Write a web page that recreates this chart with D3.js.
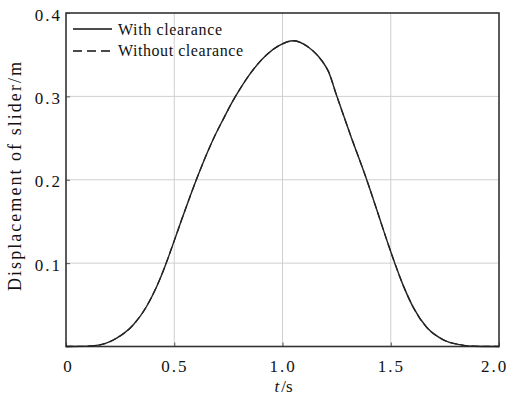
<!DOCTYPE html>
<html><head><meta charset="utf-8">
<script src="https://cdn.jsdelivr.net/npm/d3@7"></script>
<style>
body{margin:0;background:#fff;}
</style></head>
<body><svg id="c" width="507" height="404" font-family="Liberation Serif"></svg>
<script>
const xTicks = [0, 0.5, 1.0, 1.5, 2.0];
const xTickLabels = ["0", "0.5", "1.0", "1.5", "2.0"];
const yTicks = [0.1, 0.2, 0.3, 0.4];
const yTickLabels = ["0.1", "0.2", "0.3", "0.4"];
const seriesNames = ["With clearance", "Without clearance"];
const time = [0, 0.08, 0.157, 0.234, 0.311, 0.372, 0.419, 0.457, 0.496, 0.534, 0.573, 0.611, 0.650, 0.688, 0.727, 0.765, 0.804, 0.850, 0.927, 0.988, 1.05, 1.096, 1.143, 1.181, 1.212, 1.250, 1.312, 1.389, 1.443, 1.489, 1.520, 1.558, 1.604, 1.666, 1.743, 1.820, 1.88, 2.0];
const withClearance = [0, 0.0002, 0.002, 0.010, 0.026, 0.048, 0.072, 0.096, 0.124, 0.152, 0.180, 0.206, 0.231, 0.253, 0.273, 0.292, 0.309, 0.327, 0.350, 0.3615, 0.3667, 0.363, 0.354, 0.343, 0.330, 0.301, 0.255, 0.200, 0.158, 0.122, 0.099, 0.073, 0.047, 0.023, 0.008, 0.0022, 0.0003, 0];
const withoutClearance = [0, 0.0002, 0.002, 0.010, 0.026, 0.048, 0.072, 0.096, 0.124, 0.152, 0.180, 0.206, 0.231, 0.253, 0.273, 0.292, 0.309, 0.327, 0.350, 0.3615, 0.3667, 0.363, 0.354, 0.343, 0.330, 0.301, 0.255, 0.200, 0.158, 0.122, 0.099, 0.073, 0.047, 0.023, 0.008, 0.0022, 0.0003, 0];

const FONT = "Liberation Serif";
const L = 66, R = 499, T = 13, B = 346.5;
const svg = d3.select("#c");
const x = d3.scaleLinear().domain([0, 2]).range([L, R]);
const y = d3.scaleLinear().domain([0, 0.4]).range([B, T]);

// grid
const g = svg.append("g");
g.selectAll("line.gx").data(xTicks.slice(1, -1)).join("line").attr("class", "gx")
  .attr("x1", d => x(d)).attr("x2", d => x(d)).attr("y1", T).attr("y2", B)
  .attr("stroke", "#cfcfcf").attr("stroke-width", 1);
g.selectAll("line.gy").data(yTicks.slice(0, -1)).join("line").attr("class", "gy")
  .attr("y1", d => y(d)).attr("y2", d => y(d)).attr("x1", L).attr("x2", R)
  .attr("stroke", "#cfcfcf").attr("stroke-width", 1);

// axes with inward ticks
const xAxis = d3.axisBottom(x).tickValues(xTicks).tickFormat((d, i) => xTickLabels[i]).tickSize(-4);
const yAxis = d3.axisLeft(y).tickValues(yTicks).tickFormat((d, i) => yTickLabels[i]).tickSize(-4).tickPadding(4);
const gx = svg.append("g").attr("transform", `translate(0,${B})`).call(xAxis);
const gy = svg.append("g").attr("transform", `translate(${L},0)`).call(yAxis);
[gx, gy].forEach(a => {
  a.attr("font-family", FONT);
  a.select(".domain").remove();
  a.selectAll(".tick line").attr("stroke", "#555").attr("stroke-width", 1);
  a.selectAll(".tick text").attr("font-family", FONT).attr("font-size", 17)
    .style("letter-spacing", "2px").attr("fill", "#111");
});
gx.selectAll(".tick text").attr("y", 25).attr("dy", 0)
  .attr("dx", (d, i) => i === xTicks.length - 1 ? -5 : (i === 0 ? 2 : 0));
gy.selectAll(".tick text").attr("dy", "0.42em");

// frame
svg.append("rect").attr("x", L).attr("y", T).attr("width", R - L).attr("height", B - T)
  .attr("fill", "none").attr("stroke", "#333").attr("stroke-width", 1.6);

// lines
const line = d3.line().x((d, i) => x(time[i])).y(d => y(d)).curve(d3.curveMonotoneX);
svg.append("path").datum(withoutClearance).attr("d", line).attr("fill", "none")
  .attr("stroke", "#222").attr("stroke-width", 1.3).attr("stroke-dasharray", "7,4");
svg.append("path").datum(withClearance).attr("d", line).attr("fill", "none")
  .attr("stroke", "#222").attr("stroke-width", 1.4);

// legend
const leg = svg.append("g");
leg.append("line").attr("x1", 73).attr("x2", 112).attr("y1", 29).attr("y2", 29)
  .attr("stroke", "#111").attr("stroke-width", 1.6);
leg.append("line").attr("x1", 73).attr("x2", 112).attr("y1", 51).attr("y2", 51)
  .attr("stroke", "#111").attr("stroke-width", 1.6).attr("stroke-dasharray", "9,5");
leg.append("text").attr("x", 118).attr("y", 35).attr("font-family", FONT).attr("font-size", 16)
  .attr("textLength", 104).attr("lengthAdjust", "spacing").attr("fill", "#111").text(seriesNames[0]);
leg.append("text").attr("x", 118).attr("y", 56).attr("font-family", FONT).attr("font-size", 16)
  .attr("textLength", 125).attr("lengthAdjust", "spacing").attr("fill", "#111").text(seriesNames[1]);

// axis titles
const xt = svg.append("text").attr("x", x(1) + 1).attr("y", 392).attr("text-anchor", "middle")
  .attr("font-family", FONT).attr("font-size", 17).attr("fill", "#111");
xt.append("tspan").attr("font-style", "italic").text("t");
xt.append("tspan").attr("dx", 2).text("/s");
svg.append("text").attr("transform", `translate(21,176.5) rotate(-90)`)
  .attr("text-anchor", "middle").attr("font-family", FONT).attr("font-size", 18)
  .attr("textLength", 229).attr("lengthAdjust", "spacing").attr("fill", "#111")
  .text("Displacement of slider/m");
</script></body></html>
